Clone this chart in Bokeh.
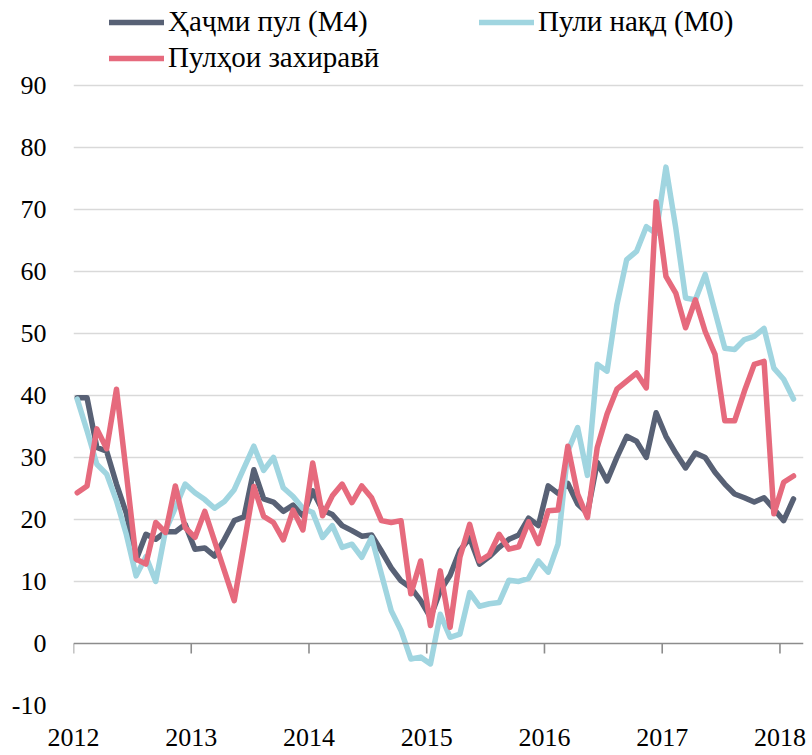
from bokeh.plotting import figure
from bokeh.models import FixedTicker, Span, Legend, LegendItem
from bokeh.embed import file_html
from bokeh.resources import INLINE

# ---- data (monthly, Jan 2012 .. Feb 2018) ----
year_ticks = [0, 12, 24, 36, 48, 60, 72]
year_labels = ["2012", "2013", "2014", "2015", "2016", "2017", "2018"]
y_ticks = [-10, 0, 10, 20, 30, 40, 50, 60, 70, 80, 90]

m4 = [39.6, 39.6, 31.6, 31.0, 25.7, 21.0, 13.5, 17.6, 16.8, 18.0, 18.0, 19.2,
      15.2, 15.4, 14.1, 16.8, 19.8, 20.4, 28.0, 23.3, 22.8, 21.3, 22.3, 20.6,
      24.6, 21.5, 20.8, 19.0, 18.2, 17.3, 17.5, 14.9, 12.2, 10.1, 9.0, 6.9,
      4.2, 8.5, 11.0, 15.0, 17.0, 12.8, 14.0, 15.5, 16.8, 17.5, 20.2, 19.0,
      25.4, 24.2, 25.8, 22.5, 21.0, 29.2, 26.2, 30.0, 33.4, 32.6, 30.0, 37.2,
      33.4, 30.7, 28.3, 30.7, 30.0, 27.6, 25.7, 24.1, 23.5, 22.8, 23.5, 21.7,
      19.8, 23.3]

m0 = [39.4, 34.3, 28.9, 27.3, 23.0, 17.6, 10.9, 14.0, 10.0, 18.2, 21.9, 25.7,
      24.3, 23.2, 21.8, 22.9, 24.8, 28.3, 31.8, 27.9, 30.0, 25.1, 23.7, 21.8,
      21.1, 17.1, 19.0, 15.5, 16.0, 13.9, 17.1, 11.2, 5.3, 2.1, -2.5, -2.2,
      -3.3, 4.7, 1.0, 1.5, 8.2, 6.0, 6.4, 6.6, 10.2, 10.0, 10.5, 13.3,
      11.5, 16.0, 31.0, 34.8, 27.1, 45.0, 43.9, 54.6, 61.9, 63.2, 67.2, 66.1,
      76.8, 67.0, 55.7, 55.4, 59.5, 53.5, 47.6, 47.4, 49.0, 49.5, 50.8, 44.4,
      42.6, 39.4]

reserve = [24.3, 25.4, 34.6, 31.4, 41.0, 27.5, 13.6, 12.8, 19.5, 17.9, 25.4, 18.7,
           17.1, 21.3, 16.5, 11.7, 6.9, 16.0, 25.3, 20.5, 19.5, 16.7, 21.5, 18.3,
           29.1, 20.6, 23.8, 25.7, 22.7, 25.4, 23.5, 19.8, 19.5, 19.8, 8.0, 13.3,
           2.9, 11.7, 2.6, 13.9, 19.2, 13.3, 14.3, 17.6, 15.2, 15.6, 19.6, 16.1,
           21.4, 21.5, 31.8, 24.1, 20.3, 31.6, 37.0, 41.0, 42.3, 43.6, 41.2, 71.2,
           59.2, 56.5, 50.9, 55.4, 50.3, 46.6, 35.9, 35.9, 40.7, 45.0, 45.5, 20.9,
           26.0, 27.0]

names = ["Ҳаҷми пул (M4)", "Пули нақд (M0)", "Пулҳои захиравӣ"]
colors = ["#586175", "#a0d5e0", "#e66a7d"]

months = list(range(len(m4)))
x = [m + 0.38 for m in months]

FONT = "Liberation Serif"

# frame reaches the top of the figure so the legend rows fit inside it
p = figure(width=810, height=754, x_range=(0, 74.4), y_range=(-10, 103.66),
           output_backend="svg", toolbar_location=None,
           min_border_left=73, min_border_right=7, min_border_top=0,
           min_border_bottom=49)
p.outline_line_color = None
p.background_fill_color = "white"

p.xaxis.ticker = FixedTicker(ticks=year_ticks)
p.xaxis.major_label_overrides = {t: l for t, l in zip(year_ticks, year_labels)}
p.xaxis.axis_line_color = None
p.xaxis.major_tick_line_color = None
p.xaxis.minor_tick_line_color = None
p.xaxis.major_tick_out = 0
p.xaxis.major_tick_in = 0
p.xaxis.major_label_standoff = 23
p.xaxis.major_label_text_line_height = 0.5
p.xaxis.major_label_text_font = FONT
p.xaxis.major_label_text_font_size = "26px"
p.xaxis.major_label_text_color = "#000000"

p.yaxis.ticker = FixedTicker(ticks=y_ticks)
p.yaxis.major_label_overrides = {-10: "-10"}
p.yaxis.axis_line_color = None
p.yaxis.major_tick_line_color = None
p.yaxis.minor_tick_line_color = None
p.yaxis.major_tick_out = 0
p.yaxis.major_tick_in = 0
p.yaxis.major_label_standoff = 27
p.yaxis.major_label_text_font = FONT
p.yaxis.major_label_text_font_size = "26px"
p.yaxis.major_label_text_color = "#000000"

p.xgrid.grid_line_color = None
p.ygrid.ticker = FixedTicker(ticks=[t for t in y_ticks if t != 0])
p.ygrid.grid_line_color = "#d9d9d9"
p.ygrid.grid_line_width = 1.5

# zero axis line with year tick marks
p.add_layout(Span(location=0, dimension="width", line_color="#8c8c8c", line_width=1.6))
p.segment(x0=year_ticks, y0=[0] * len(year_ticks), x1=year_ticks,
          y1=[-1.6] * len(year_ticks), line_color="#8c8c8c", line_width=1.6)

renderers = []
for series, c in zip([m4, m0, reserve], colors):
    r = p.line(x, series, line_color=c, line_width=5.5, line_join="round", line_cap="round")
    renderers.append(r)

# legends (one per entry, placed above the -10..90 area)
leg_pos = [(36, 667), (406, 667), (36, 631)]
for name, r, loc in zip(names, renderers, leg_pos):
    lg = Legend(items=[LegendItem(label=name, renderers=[r])], location=loc,
                padding=0, margin=0, spacing=0, border_line_color=None,
                background_fill_alpha=0, glyph_width=55, glyph_height=30,
                label_height=30, label_standoff=4, label_text_font=FONT,
                label_text_font_size="29px", label_text_color="#000000")
    p.add_layout(lg, "center")

open("out.html", "w").write(file_html(p, INLINE))
